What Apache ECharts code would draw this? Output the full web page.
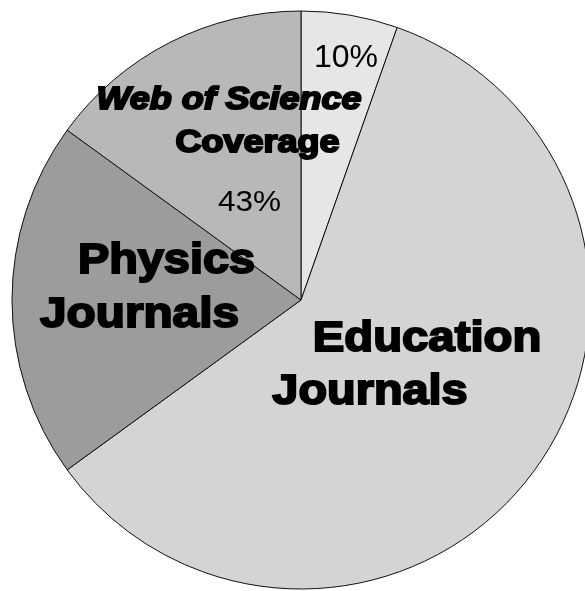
<!DOCTYPE html>
<html>
<head>
<meta charset="utf-8">
<script src="https://cdn.jsdelivr.net/npm/echarts@6/dist/echarts.min.js"></script>
<style>
html,body{margin:0;padding:0;background:#fff;}
#chart{width:585px;height:591px;}
</style>
</head>
<body>
<div id="chart"></div>
<script>
// Data (slice shares, clockwise from 12 o'clock)
var categories = ["Other", "Education Journals", "Physics Journals", "Web of Science Coverage"];
var values = [5.4, 59.6, 20.0, 15.0];
// Annotation texts shown on the chart
var percentLabels = ["10%", "43%"];
var titleLines = ["Web of Science", "Coverage"];
var physicsLines = ["Physics", "Journals"];
var educationLines = ["Education", "Journals"];

var sliceColors = ["#e6e6e6", "#d4d4d4", "#9c9c9c", "#b8b8b8"];

var chart = echarts.init(document.getElementById('chart'), null, {renderer: 'canvas'});

function txt(str, x, y, font, sx, opts) {
  opts = opts || {};
  return {
    type: 'text',
    x: x, y: y,
    scaleX: sx,
    z: 100,
    style: {
      text: str,
      x: 0, y: 0,
      font: font,
      fill: '#000',
      stroke: opts.stroke ? '#000' : null,
      lineWidth: opts.stroke || 0,
      lineJoin: 'round',
      align: 'center',
      verticalAlign: 'middle'
    }
  };
}

var bigFont = 'bold 43px "Liberation Sans", Arial, sans-serif';
var midFont = 'italic bold 31px "Liberation Sans", Arial, sans-serif';
var midFont2 = 'bold 31px "Liberation Sans", Arial, sans-serif';
var pctFont1 = '32px "Liberation Sans", Arial, sans-serif';
var pctFont2 = '30px "Liberation Sans", Arial, sans-serif';

var option = {
  backgroundColor: '#ffffff',
  animation: false,
  series: [{
    type: 'pie',
    center: [301, 300],
    radius: 289,
    startAngle: 90,
    clockwise: true,
    silent: true,
    label: {show: false},
    labelLine: {show: false},
    itemStyle: {borderColor: '#111', borderWidth: 1},
    data: categories.map(function (c, i) {
      return {name: c, value: values[i], itemStyle: {color: sliceColors[i]}};
    })
  }],
  graphic: [
    txt(percentLabels[0], 346, 58.5, pctFont1, 1),
    txt(titleLines[0], 229, 100.5, midFont, 1.16, {stroke: 2}),
    txt(titleLines[1], 257.5, 143.3, midFont2, 1.16, {stroke: 2}),
    txt(percentLabels[1], 249.5, 202.5, pctFont2, 1.05),
    txt(physicsLines[0], 166.5, 261, bigFont, 1.09, {stroke: 2}),
    txt(physicsLines[1], 139.5, 315, bigFont, 1.11, {stroke: 2}),
    txt(educationLines[0], 427, 339, bigFont, 1.1, {stroke: 2}),
    txt(educationLines[1], 370, 392.5, bigFont, 1.09, {stroke: 2})
  ]
};
chart.setOption(option);
</script>
</body>
</html>
